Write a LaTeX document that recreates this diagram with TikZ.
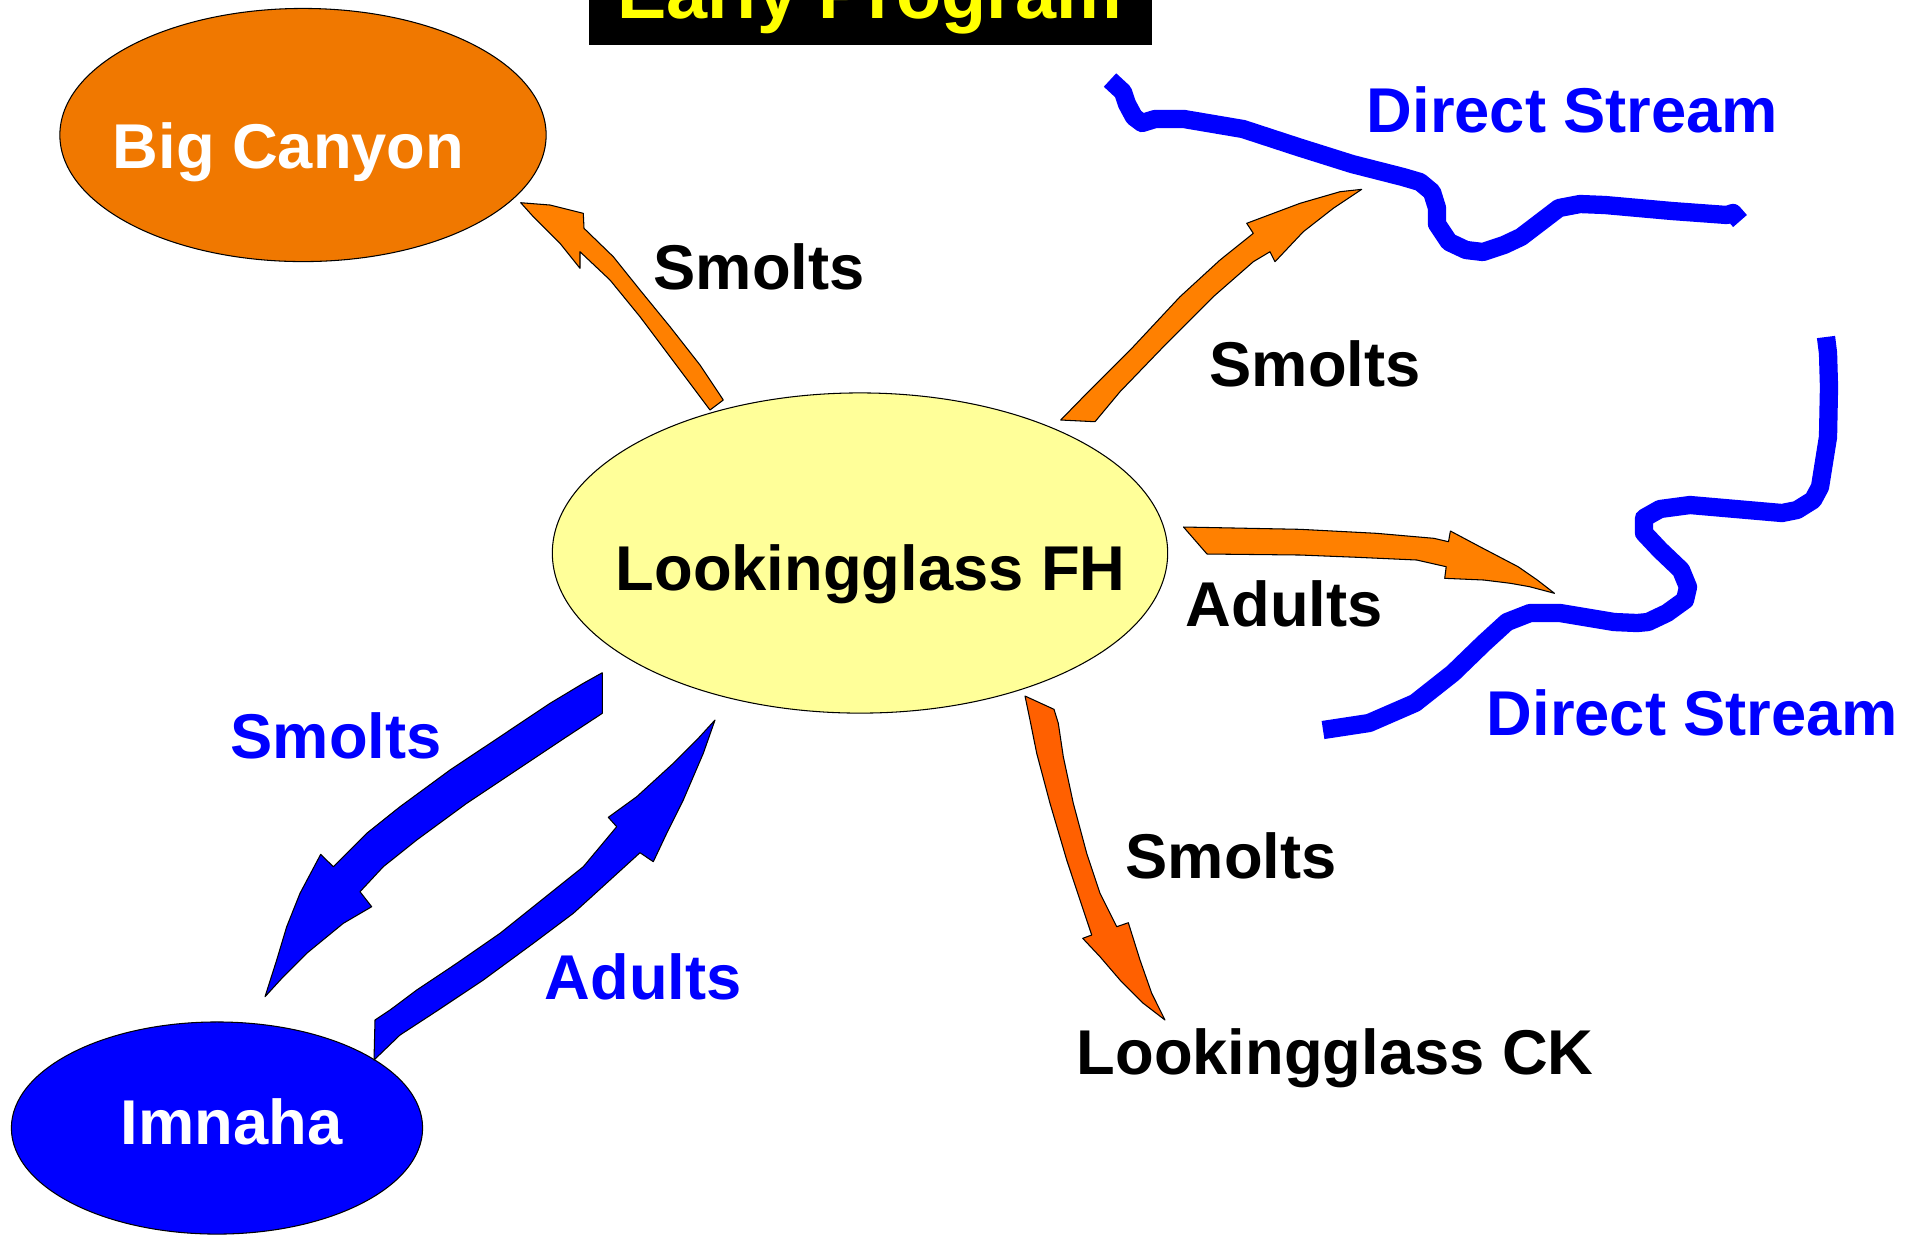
\documentclass[tikz,border=0pt]{standalone}
\usepackage{fontspec}
\setmainfont{Liberation Sans}
\usetikzlibrary{shapes.geometric}
\definecolor{bcorange}{RGB}{240,120,0}
\definecolor{arrorange}{RGB}{255,128,0}
\definecolor{arrred}{RGB}{255,96,0}
\definecolor{fhyellow}{RGB}{255,255,153}
\definecolor{pblue}{RGB}{0,0,255}
\definecolor{tyellow}{RGB}{255,255,0}
\tikzset{
  lbl/.style={font=\bfseries\fontsize{18}{20}\selectfont, inner sep=0pt, anchor=base west},
  blk/.style={lbl, text=black},
  blu/.style={lbl, text=pblue},
  wht/.style={lbl, text=white},
  oval/.style={ellipse, draw=black, line width=0.3pt, inner sep=0pt},
  blockarrow/.style={draw=black, line width=0.3pt, line join=round},
  river/.style={draw=pblue, line width=5.2pt, line join=round, line cap=butt}
}
\begin{document}
\begin{tikzpicture}[x=0.01cm, y=-0.01cm]
\useasboundingbox (0,0) rectangle (1921,1235);
\fill[white] (0,0) rectangle (1921,1235);

% title
\fill[black] (589,0) rectangle (1152,45);
\node[font=\bfseries\fontsize{21}{24}\selectfont, text=tyellow, inner sep=0pt, anchor=base] (title) at (870,18) {Early Program};

% rivers
\draw[river] (1110,80) -- (1123,92) -- (1127,104) -- (1134,117) -- (1142,123) -- (1155,119) -- (1184,119) -- (1243,129) -- (1298,147) -- (1352,164) -- (1403,177) -- (1420,182) -- (1432,192) -- (1437,208) -- (1437,224) -- (1449,242) -- (1466,250) -- (1483,252) -- (1504,245) -- (1521,237) -- (1559,208) -- (1580,204) -- (1605,205) -- (1672,211) -- (1727,215) -- (1733,213) -- (1740,221);
\draw[river] (1826,337) -- (1828,353) -- (1829,387) -- (1828,437) -- (1820,487) -- (1813,500) -- (1797,510) -- (1782,513) -- (1690,505) -- (1660,509) -- (1644,518) -- (1644,533) -- (1660,550) -- (1681,570) -- (1688,587) -- (1685,600) -- (1667,613) -- (1648,622) -- (1637,623) -- (1614,622) -- (1560,613) -- (1530,613) -- (1507,622) -- (1484,643) -- (1453,673) -- (1415,703) -- (1369,723) -- (1323,730);

% ellipses
\node[oval, fill=bcorange, minimum width=4.86cm, minimum height=2.53cm] (bigcanyon) at (303,135) {};
\node[oval, fill=fhyellow, minimum width=6.15cm, minimum height=3.20cm] (fh) at (860,553) {};
\node[oval, fill=pblue, minimum width=4.11cm, minimum height=2.12cm] (imnaha) at (217,1128) {};

% orange arrow to Big Canyon
\draw[blockarrow, fill=arrorange] (520.7,202.7) -- (550,205) -- (583.3,213.3) -- (584,228.3) -- (613.3,256.7) -- (640,290) -- (670,326.7) -- (700,365) -- (723.3,400) -- (710,410) -- (680,370) -- (640,316.7) -- (610,280) -- (580,251.7) -- (580,268.3) -- (560,243.3) -- (533.3,216.7) -- cycle;

% orange arrow to upper Direct Stream
\draw[blockarrow, fill=arrorange] (1060.7,420) -- (1095,421.7) -- (1120,391.7) -- (1166.7,343.3) -- (1213.3,296.7) -- (1253.3,261.7) -- (1270,251.7) -- (1275,261.7) -- (1303.3,231.7) -- (1333.3,208.3) -- (1361.7,189.3) -- (1340,191.7) -- (1300,203.3) -- (1246.7,223.3) -- (1253.3,233.3) -- (1220,260) -- (1180,296.7) -- (1133.3,346.7) -- (1090,390) -- cycle;

% orange Adults arrow
\draw[blockarrow, fill=arrorange] (1183.5,527) -- (1300,529.3) -- (1376.5,533.3) -- (1433.9,538.3) -- (1448.5,541.7) -- (1450.4,531) -- (1479.9,546.7) -- (1518.1,566.7) -- (1537.3,580) -- (1554.5,593.3) -- (1529.6,586.7) -- (1510.5,583.3) -- (1483.7,580) -- (1444.7,578.3) -- (1446.2,566.7) -- (1416.7,560) -- (1357.4,557.3) -- (1300,555) -- (1207,554) -- cycle;

% red-orange arrow to Lookingglass CK
\draw[blockarrow, fill=arrred] (1025,696) -- (1054,709.3) -- (1058.3,723.3) -- (1063.3,756.7) -- (1073.3,803.3) -- (1086.7,853.3) -- (1100,893.3) -- (1116.7,926.7) -- (1128.3,922.7) -- (1140,960) -- (1151.7,993.3) -- (1165,1020) -- (1143.3,1003.3) -- (1120,980) -- (1100,956.7) -- (1082.7,938.3) -- (1091.7,935) -- (1080,900) -- (1066.7,860) -- (1050,803.3) -- (1036.7,753.3) -- (1030,720) -- cycle;

% blue Smolts arrow to Imnaha
\draw[blockarrow, fill=pblue] (602.3,672.7) -- (583.3,683.3) -- (550,703.3) -- (500,736.7) -- (450,770) -- (400,806.7) -- (366.7,833.3) -- (333.3,866.7) -- (320.7,854.3) -- (300,893.3) -- (286.7,926.7) -- (276.7,960) -- (265,996.7) -- (283.3,976.7) -- (306.7,953.3) -- (343.3,923.3) -- (371.7,906.7) -- (360,891.7) -- (383.3,866.7) -- (416.7,840) -- (466.7,803.3) -- (516.7,770) -- (566.7,736.7) -- (602.3,713.3) -- cycle;

% blue Adults arrow from Imnaha
\draw[blockarrow, fill=pblue] (375,1020) -- (390,1010) -- (416.7,990) -- (456.7,963.3) -- (500,933.3) -- (550,893.3) -- (583.3,866.7) -- (616.7,826.7) -- (608.3,817.3) -- (636.7,796.7) -- (673.3,763.3) -- (696.7,740) -- (715,720) -- (703.3,753.3) -- (683.3,800) -- (666.7,833.3) -- (653.3,861.7) -- (640,852.7) -- (610,880) -- (573.3,913.3) -- (533.3,943.3) -- (483.3,980) -- (433.3,1013.3) -- (400,1035) -- (374,1060) -- cycle;

% labels
\node[wht] (tbc) at (112,168) {Big Canyon};
\node[blk] (tfh) at (615,590) {Lookingglass FH};
\node[wht] (tim) at (120,1144) {Imnaha};
\node[blk] (s1) at (653,289) {Smolts};
\node[blk] (s2) at (1209,386) {Smolts};
\node[blk] (a1) at (1185,626) {Adults};
\node[blk] (s3) at (1125,878) {Smolts};
\node[blk] (tck) at (1076,1074) {Lookingglass CK};
\node[blu] (s4) at (230,758) {Smolts};
\node[blu] (a2) at (544,999) {Adults};
\node[blu] (ds1) at (1366,132) {Direct Stream};
\node[blu] (ds2) at (1486,735) {Direct Stream};
\end{tikzpicture}
\end{document}
